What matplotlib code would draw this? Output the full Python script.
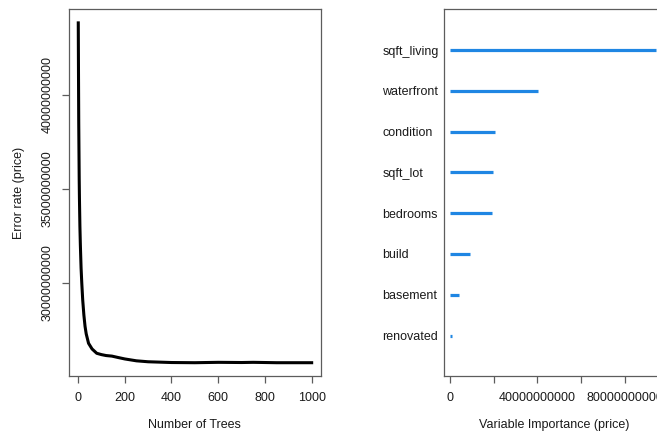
import matplotlib
matplotlib.use("Agg")
import matplotlib.pyplot as plt

plt.rcParams['font.family'] = ['Liberation Sans', 'DejaVu Sans']

# OOB error rate of the forest as trees are added
n_trees = [1, 2, 3, 4, 5, 6, 8, 10, 13, 16, 20, 25, 30, 35, 45, 60, 80, 100,
           120, 145, 170, 200, 250, 300, 400, 500, 600, 700, 750, 850, 1000]
error_rate = [4.38e10, 4.10e10, 3.85e10, 3.70e10, 3.55e10, 3.45e10, 3.30e10,
              3.20e10, 3.08e10, 3.00e10, 2.91e10, 2.83e10, 2.77e10, 2.73e10,
              2.68e10, 2.65e10, 2.627e10, 2.620e10, 2.615e10, 2.612e10,
              2.605e10, 2.597e10, 2.587e10, 2.582e10, 2.578e10, 2.577e10,
              2.579e10, 2.578e10, 2.579e10, 2.577e10, 2.577e10]

x_ticks = [0, 200, 400, 600, 800, 1000]
y_ticks = [3.0e10, 3.5e10, 4.0e10]
y_tick_labels = ["30000000000", "35000000000", "40000000000"]

# Variable importance
variables = ["sqft_living", "waterfront", "condition", "sqft_lot",
             "bedrooms", "build", "basement", "renovated"]
importance = [9.43e10, 4.04e10, 2.07e10, 1.98e10, 1.90e10, 0.91e10,
              0.40e10, 0.08e10]
imp_ticks = [0, 2e10, 4e10, 6e10, 8e10]
imp_tick_labels = ["0", "", "40000000000", "", "80000000000"]

W, H = 657, 436
fig = plt.figure(figsize=(W / 100, H / 100), dpi=100)

frame_col = "#5c5c5c"
text_col = "#1a1a1a"
fs = 9


def px_axes(l, r, t, b):
    return fig.add_axes([l / W, (H - b) / H, (r - l) / W, (b - t) / H])


def style(ax):
    for s in ax.spines.values():
        s.set_color(frame_col)
        s.set_linewidth(0.9)
    ax.tick_params(colors=frame_col, labelcolor=text_col, labelsize=fs,
                   length=5, width=0.9)


# Left panel: error rate vs number of trees
ax1 = px_axes(68.7, 321, 9.3, 376.3)
style(ax1)
ax1.plot(n_trees, error_rate, color="black", lw=2.2, solid_joinstyle="round")
ax1.set_xlim(-39.96, 1039.96)
ymin, ymax = min(error_rate), max(error_rate)
pad = 0.04 * (ymax - ymin)
ax1.set_ylim(ymin - pad, ymax + pad)
ax1.set_xticks(x_ticks)
ax1.set_yticks(y_ticks, y_tick_labels)
ax1.tick_params(axis="x", pad=6)
ax1.tick_params(axis="y", pad=6)
for lab in ax1.get_yticklabels():
    lab.set_rotation(90)
    lab.set_va("center")
ax1.set_xlabel("Number of Trees", fontsize=fs, color=text_col, labelpad=11)
ax1.set_ylabel("Error rate (price)", fontsize=fs, color=text_col, labelpad=12)

# Right panel: variable importance segments (panel runs past the right edge)
ax2 = px_axes(443.5, 664.5, 9.3, 376.3)
style(ax2)
ypos = list(range(len(variables), 0, -1))
ax2.hlines(ypos, 0, importance, color="#1f86e3", lw=2.3, capstyle="butt")
xmin_v, xmax_v = min(importance), max(importance)
xpad = 0.04 * (xmax_v - xmin_v)
ax2.set_xlim(xmin_v - xpad, xmax_v + xpad)
ax2.set_ylim(0, len(variables) + 1)
ax2.set_xticks(imp_ticks, imp_tick_labels)
ax2.set_yticks(ypos, variables)
ax2.tick_params(axis="x", pad=6)
ax2.tick_params(axis="y", left=False, pad=39)
for lab in ax2.get_yticklabels():
    lab.set_ha("left")
ax2.set_xlabel("Variable Importance (price)", fontsize=fs, color=text_col,
               labelpad=11)

fig.savefig("out.png", dpi=100)
